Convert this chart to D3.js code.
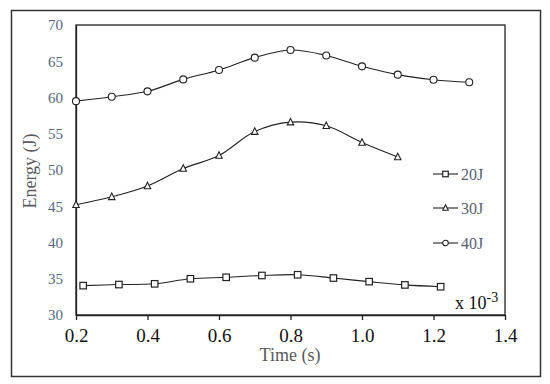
<!DOCTYPE html>
<html>
<head>
<meta charset="utf-8">
<script src="https://cdn.jsdelivr.net/npm/d3@7"></script>
<style>
  body { margin: 0; background: #fff; }
</style>
</head>
<body>
<div class="chart"></div>
<script>
// data
var time40 = [0.2, 0.3, 0.4, 0.5, 0.6, 0.7, 0.8, 0.9, 1.0, 1.1, 1.2, 1.3];
var energy40 = [59.5, 60.1, 60.85, 62.5, 63.8, 65.5, 66.55, 65.8, 64.3, 63.15, 62.45, 62.1];

var time30 = [0.2, 0.3, 0.4, 0.5, 0.6, 0.7, 0.8, 0.9, 1.0, 1.1];
var energy30 = [45.2, 46.3, 47.8, 50.2, 52.0, 55.3, 56.6, 56.1, 53.8, 51.8];

var time20 = [0.22, 0.32, 0.42, 0.52, 0.62, 0.72, 0.82, 0.92, 1.02, 1.12, 1.22];
var energy20 = [34.05, 34.2, 34.3, 35.0, 35.2, 35.45, 35.55, 35.1, 34.6, 34.15, 33.9];

var xTicks = [0.2, 0.4, 0.6, 0.8, 1.0, 1.2, 1.4];
var yTicks = [30, 35, 40, 45, 50, 55, 60, 65, 70];
var seriesNames = ["20J", "30J", "40J"];

var serif = "Liberation Serif";

var svgWidth = 550;
var svgHeight = 384;

var chartMargin = { top: 25, right: 45, bottom: 69, left: 76 };
var width = svgWidth - chartMargin.left - chartMargin.right;
var height = svgHeight - chartMargin.top - chartMargin.bottom;

var svg = d3.select(".chart")
  .append("svg")
  .attr("width", svgWidth)
  .attr("height", svgHeight)
  .attr("font-family", serif);

// outer frame
svg.append("rect")
  .attr("x", 11.5).attr("y", 10.5)
  .attr("width", 529).attr("height", 366)
  .attr("fill", "none")
  .attr("stroke", "#333")
  .attr("stroke-width", 1.5);

var chartGroup = svg.append("g")
  .attr("transform", `translate(${chartMargin.left}, ${chartMargin.top})`);

var xScale = d3.scaleLinear().domain([0.2, 1.4]).range([0, width]);
var yScale = d3.scaleLinear().domain([30, 70]).range([height, 0]);

// plot box
chartGroup.append("rect")
  .attr("width", width).attr("height", height)
  .attr("fill", "none")
  .attr("stroke", "#222")
  .attr("stroke-width", 1.3);

// x axis
var bottomAxis = d3.axisBottom(xScale)
  .tickValues(xTicks)
  .tickFormat(d3.format(".1f"))
  .tickSize(5)
  .tickSizeOuter(0);

var xAxis = chartGroup.append("g")
  .attr("transform", `translate(0, ${height})`)
  .call(bottomAxis)
  .attr("font-family", null)
  .attr("font-size", null);
xAxis.select(".domain").attr("stroke", "#222").attr("stroke-width", 1.3);
xAxis.selectAll(".tick line").attr("stroke", "#222").attr("stroke-width", 1.3);
xAxis.selectAll(".tick text")
  .style("font-family", serif)
  .style("font-size", "19px")
  .attr("fill", "#111")
  .attr("dy", "1.0em");

// y axis
var leftAxis = d3.axisLeft(yScale)
  .tickValues(yTicks)
  .tickSize(0)
  .tickPadding(13);

var yAxis = chartGroup.append("g").call(leftAxis)
  .attr("font-family", null)
  .attr("font-size", null);
yAxis.select(".domain").attr("stroke", "#222").attr("stroke-width", 1.3);
yAxis.selectAll(".tick text")
  .style("font-family", serif)
  .style("font-size", "15px")
  .attr("fill", "#55667f");

// series
var series = [
  { name: seriesNames[0], x: time20, y: energy20, shape: "square" },
  { name: seriesNames[1], x: time30, y: energy30, shape: "triangle" },
  { name: seriesNames[2], x: time40, y: energy40, shape: "circle" }
];

var line = d3.line()
  .x(d => xScale(d[0]))
  .y(d => yScale(d[1]))
  .curve(d3.curveCatmullRom.alpha(0.5));

function drawMarker(g, shape, cx, cy, big) {
  if (shape === "square") {
    var s = big ? 6.5 : 5.5;
    g.append("rect")
      .attr("x", cx - s / 2).attr("y", cy - s / 2)
      .attr("width", s).attr("height", s)
      .attr("fill", "#fff").attr("stroke", "#222").attr("stroke-width", 1.2);
  } else if (shape === "triangle") {
    var t = big ? 6.5 : 5.5;
    g.append("path")
      .attr("d", `M${cx},${cy - t / 2 - 0.5}L${cx + t / 2},${cy + t / 2 - 0.5}L${cx - t / 2},${cy + t / 2 - 0.5}Z`)
      .attr("fill", "#fff").attr("stroke", "#222").attr("stroke-width", 1.1);
  } else {
    g.append("circle")
      .attr("cx", cx).attr("cy", cy).attr("r", big ? 3.5 : 2.8)
      .attr("fill", "#fff").attr("stroke", "#222").attr("stroke-width", 1.1);
  }
}

series.forEach(function(s) {
  var pts = s.x.map((v, i) => [v, s.y[i]]);
  chartGroup.append("path")
    .datum(pts)
    .attr("d", line)
    .attr("fill", "none")
    .attr("stroke", "#222")
    .attr("stroke-width", 1.1);
  var mg = chartGroup.append("g");
  pts.forEach(function(p) {
    drawMarker(mg, s.shape, xScale(p[0]), yScale(p[1]), true);
  });
});

// legend
var legendY = [149, 183, 218];
series.forEach(function(s, i) {
  var lg = chartGroup.append("g")
    .attr("transform", `translate(${433 - chartMargin.left}, ${legendY[i]})`);
  lg.append("line")
    .attr("x1", 0).attr("x2", 25)
    .attr("stroke", "#222").attr("stroke-width", 1.1);
  drawMarker(lg, s.shape, 12.5, 0, false);
  lg.append("text")
    .attr("x", 28).attr("y", 0).attr("dy", "0.35em")
    .attr("font-size", "16px")
    .attr("fill", "#5a6070")
    .text(s.name);
});

// x 10^-3 note
var note = chartGroup.append("text")
  .attr("x", 455 - chartMargin.left)
  .attr("y", 309 - chartMargin.top)
  .attr("font-size", "18px")
  .attr("fill", "#111");
note.append("tspan").text("x 10");
note.append("tspan").attr("dy", "-7").attr("font-size", "14px").text("-3");

// axis titles
chartGroup.append("text")
  .attr("text-anchor", "middle")
  .attr("x", 290 - chartMargin.left)
  .attr("y", 361 - chartMargin.top)
  .attr("font-size", "18px")
  .attr("fill", "#5a5a5a")
  .text("Time (s)");

chartGroup.append("text")
  .attr("text-anchor", "middle")
  .attr("transform", `translate(${36 - chartMargin.left}, ${171 - chartMargin.top}) rotate(-90)`)
  .attr("font-size", "18px")
  .attr("fill", "#5a5a5a")
  .text("Energy (J)");
</script>
</body>
</html>
